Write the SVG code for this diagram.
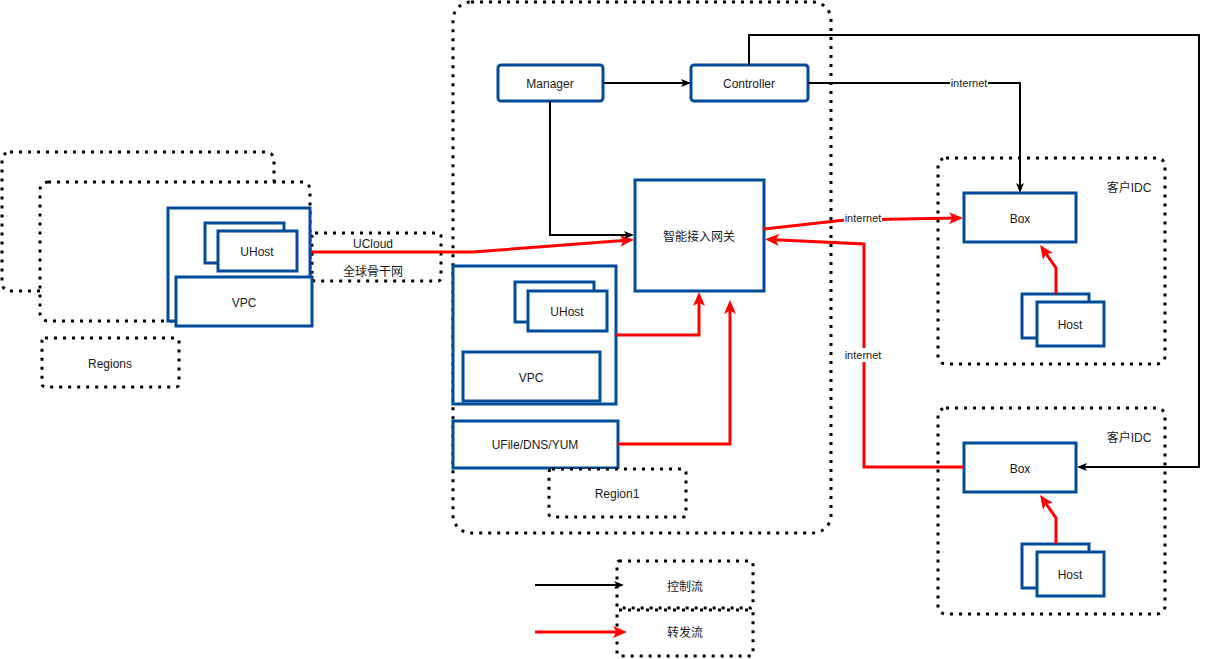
<svg xmlns="http://www.w3.org/2000/svg" width="1210" height="659" viewBox="0 0 1210 659">
<style>
.dot{fill:#fff;stroke:#000;stroke-width:3;stroke-dasharray:3 6}
.blue{fill:#fff;stroke:#004C99;stroke-width:3}
.t{font-family:"Liberation Sans",Arial,"Noto Sans CJK SC",sans-serif;font-size:12px;fill:#1a1a1a;text-anchor:middle;dominant-baseline:central}
.s{font-size:11px}
.bk{fill:none;stroke:#000;stroke-width:2}
.rd{fill:none;stroke:#ff0000;stroke-width:3}
</style>
<defs>
<marker id="ab" viewBox="0 0 10 8" markerWidth="10" markerHeight="8" refX="7" refY="4" orient="auto" markerUnits="userSpaceOnUse"><path d="M0,0 L10,4 L0,8 L2.5,4 Z" fill="#000"/></marker>
<marker id="ar" viewBox="0 0 14 12" markerWidth="14" markerHeight="12" refX="10" refY="6" orient="auto" markerUnits="userSpaceOnUse"><path d="M0,0 L14,6 L0,12 L3.5,6 Z" fill="#ff0000"/></marker>
</defs>

<g id="region1"><rect class="dot" x="453" y="2" width="378" height="531" rx="18"/></g>
<g id="regions-bg1"><rect class="dot" x="2" y="152" width="272" height="139" rx="8"/></g>
<g id="regions-bg2"><rect class="dot" x="40" y="182" width="270" height="139" rx="8"/></g>
<g id="regions-label"><rect class="dot" x="42" y="338" width="137" height="49" rx="3"/><text class="t" x="110" y="364">Regions</text></g>
<g id="ucloud"><rect class="dot" x="312" y="233" width="129" height="48" rx="3"/><text class="t" x="373" y="244">UCloud</text><text class="t" x="373" y="272">全球骨干网</text></g>

<g id="left-vpc-group">
<rect class="blue" x="168" y="208" width="142" height="113"/>
<rect class="blue" x="205" y="223" width="79" height="40"/>
<rect class="blue" x="218" y="231" width="79" height="40"/><text class="t" x="257" y="252">UHost</text>
<rect class="blue" x="176" y="277" width="136" height="49"/><text class="t" x="244" y="303">VPC</text>
</g>

<g id="manager"><rect class="blue" x="498" y="65" width="105" height="36" rx="3"/><text class="t" x="550" y="84">Manager</text></g>
<g id="controller"><rect class="blue" x="691" y="65" width="117" height="36" rx="3"/><text class="t" x="749" y="84">Controller</text></g>
<g id="gateway"><rect class="blue" x="635" y="180" width="129" height="111"/><text class="t" x="699" y="237">智能接入网关</text></g>

<g id="r1-vpc-group">
<rect class="blue" x="453" y="266" width="163" height="138"/>
<rect class="blue" x="515" y="282" width="79" height="40"/>
<rect class="blue" x="528" y="291" width="79" height="40"/><text class="t" x="567" y="312">UHost</text>
<rect class="blue" x="463" y="352" width="137" height="49"/><text class="t" x="531" y="378">VPC</text>
</g>
<g id="ufile"><rect class="blue" x="453" y="421" width="165" height="47"/><text class="t" x="535" y="445">UFile/DNS/YUM</text></g>
<g id="region1-label"><rect class="dot" x="549" y="469" width="137" height="48" rx="3"/><text class="t" x="617" y="494">Region1</text></g>

<g id="idc1">
<rect class="dot" x="938" y="158" width="227" height="206" rx="8"/><text class="t" x="1129" y="188">客户IDC</text>
<rect class="blue" x="964" y="193" width="112" height="49"/><text class="t" x="1020" y="219">Box</text>
<rect class="blue" x="1022" y="294" width="67" height="44"/>
<rect class="blue" x="1037" y="302" width="67" height="44"/><text class="t" x="1070" y="325">Host</text>
</g>
<g id="idc2">
<rect class="dot" x="938" y="408" width="227" height="206" rx="8"/><text class="t" x="1129" y="438">客户IDC</text>
<rect class="blue" x="964" y="443" width="112" height="49"/><text class="t" x="1020" y="469">Box</text>
<rect class="blue" x="1022" y="544" width="67" height="44"/>
<rect class="blue" x="1037" y="552" width="67" height="44"/><text class="t" x="1070" y="575">Host</text>
</g>

<g id="legend">
<rect class="dot" x="617" y="561" width="136" height="47" rx="2"/><text class="t" x="685" y="587">控制流</text>
<rect class="dot" x="617" y="610" width="136" height="46" rx="2"/><text class="t" x="685" y="633">转发流</text>
</g>

<g id="connectors">
<path class="rd" d="M311,252 L473,252 L630,240" marker-end="url(#ar)"/>
<path class="bk" d="M603,83 L688,83" marker-end="url(#ab)"/>
<path class="bk" d="M550,101 L550,235 L631,235" marker-end="url(#ab)"/>
<path class="bk" d="M749,65 L749,35 L1199,35 L1199,467 L1080,467" marker-end="url(#ab)"/>
<path class="bk" d="M808,83 L1020,83 L1020,190" marker-end="url(#ab)"/>
<path class="rd" d="M764,229 L845,220 L959,218" marker-end="url(#ar)"/>
<path class="rd" d="M964,467 L864,467 L864,244 L769,239.5" marker-end="url(#ar)"/>
<path class="rd" d="M616,335 L699,335 L699,296" marker-end="url(#ar)"/>
<path class="rd" d="M618,444 L730,444 L730,304" marker-end="url(#ar)"/>
<path class="rd" d="M1056,294 L1056,268 L1042.3,248.3" marker-end="url(#ar)"/>
<path class="rd" d="M1056,544 L1056,518 L1042.3,498.3" marker-end="url(#ar)"/>
<path class="bk" d="M535,585 L621,585" marker-end="url(#ab)"/>
<path class="rd" d="M535,632 L623,632" marker-end="url(#ar)"/>
<rect x="950" y="76" width="38" height="14" fill="#fff"/><text class="t s" x="969" y="83">internet</text>
<rect x="844" y="211" width="38" height="14" fill="#fff"/><text class="t s" x="863" y="218">internet</text>
<rect x="844" y="348" width="38" height="14" fill="#fff"/><text class="t s" x="863" y="355">internet</text>
</g>
</svg>
